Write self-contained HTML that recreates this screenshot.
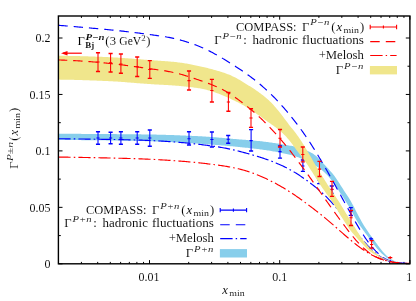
<!DOCTYPE html>
<html><head><meta charset="utf-8"><title>chart</title>
<style>html,body{margin:0;padding:0;background:#fff;}svg{display:block;will-change:transform;}</style>
</head><body>
<svg width="416" height="301" viewBox="0 0 416 301">
<rect width="416" height="301" fill="#ffffff"/>
<defs><clipPath id="c"><rect x="58.4" y="16.0" width="351.5" height="247.8"/></clipPath></defs>
<path d="M149.50,263.8v-3.7M149.50,16.0v3.7M279.70,263.8v-3.7M279.70,16.0v3.7M409.90,263.8v-3.7M409.90,16.0v3.7M58.49,263.8v-1.9M58.49,16.0v1.9M81.42,263.8v-1.9M81.42,16.0v1.9M97.69,263.8v-1.9M97.69,16.0v1.9M110.31,263.8v-1.9M110.31,16.0v1.9M120.62,263.8v-1.9M120.62,16.0v1.9M129.33,263.8v-1.9M129.33,16.0v1.9M136.88,263.8v-1.9M136.88,16.0v1.9M143.54,263.8v-1.9M143.54,16.0v1.9M188.69,263.8v-1.9M188.69,16.0v1.9M211.62,263.8v-1.9M211.62,16.0v1.9M227.89,263.8v-1.9M227.89,16.0v1.9M240.51,263.8v-1.9M240.51,16.0v1.9M250.82,263.8v-1.9M250.82,16.0v1.9M259.53,263.8v-1.9M259.53,16.0v1.9M267.08,263.8v-1.9M267.08,16.0v1.9M273.74,263.8v-1.9M273.74,16.0v1.9M318.89,263.8v-1.9M318.89,16.0v1.9M341.82,263.8v-1.9M341.82,16.0v1.9M358.09,263.8v-1.9M358.09,16.0v1.9M370.71,263.8v-1.9M370.71,16.0v1.9M381.02,263.8v-1.9M381.02,16.0v1.9M389.73,263.8v-1.9M389.73,16.0v1.9M397.28,263.8v-1.9M397.28,16.0v1.9M403.94,263.8v-1.9M403.94,16.0v1.9M58.4,263.80h4.1M409.9,263.80h-4.1M58.4,235.58h2.4M409.9,235.58h-2.4M58.4,207.35h4.1M409.9,207.35h-4.1M58.4,179.12h2.4M409.9,179.12h-2.4M58.4,150.90h4.1M409.9,150.90h-4.1M58.4,122.68h2.4M409.9,122.68h-2.4M58.4,94.45h4.1M409.9,94.45h-4.1M58.4,66.22h2.4M409.9,66.22h-2.4M58.4,38.00h4.1M409.9,38.00h-4.1" stroke="#000" stroke-width="1" fill="none"/>
<g clip-path="url(#c)" fill="none" stroke-width="1.15">
<path d="M58.40,133.75 L59.58,133.76 L60.75,133.76 L61.93,133.77 L63.10,133.77 L64.28,133.78 L65.45,133.78 L66.63,133.79 L67.80,133.79 L68.98,133.80 L70.16,133.81 L71.33,133.81 L72.51,133.82 L73.68,133.83 L74.86,133.83 L76.03,133.84 L77.21,133.85 L78.38,133.85 L79.56,133.86 L80.74,133.87 L81.91,133.88 L83.09,133.88 L84.26,133.89 L85.44,133.90 L86.61,133.91 L87.79,133.91 L88.97,133.92 L90.14,133.93 L91.32,133.94 L92.49,133.95 L93.67,133.95 L94.84,133.96 L96.02,133.97 L97.19,133.98 L98.37,133.99 L99.55,134.00 L100.72,134.01 L101.90,134.01 L103.07,134.02 L104.25,134.03 L105.42,134.04 L106.60,134.05 L107.77,134.06 L108.95,134.07 L110.13,134.08 L111.30,134.09 L112.48,134.09 L113.65,134.10 L114.83,134.11 L116.00,134.12 L117.18,134.13 L118.35,134.14 L119.53,134.15 L120.71,134.16 L121.88,134.17 L123.06,134.18 L124.23,134.19 L125.41,134.20 L126.58,134.21 L127.76,134.23 L128.94,134.24 L130.11,134.25 L131.29,134.26 L132.46,134.27 L133.64,134.29 L134.81,134.30 L135.99,134.31 L137.16,134.33 L138.34,134.34 L139.52,134.36 L140.69,134.37 L141.87,134.39 L143.04,134.40 L144.22,134.42 L145.39,134.43 L146.57,134.45 L147.74,134.47 L148.92,134.49 L150.10,134.50 L151.27,134.52 L152.45,134.54 L153.62,134.57 L154.80,134.59 L155.97,134.61 L157.15,134.64 L158.32,134.67 L159.50,134.69 L160.68,134.72 L161.85,134.75 L163.03,134.78 L164.20,134.82 L165.38,134.85 L166.55,134.89 L167.73,134.92 L168.91,134.96 L170.08,135.00 L171.26,135.03 L172.43,135.07 L173.61,135.12 L174.78,135.16 L175.96,135.20 L177.13,135.24 L178.31,135.29 L179.49,135.33 L180.66,135.38 L181.84,135.43 L183.01,135.48 L184.19,135.52 L185.36,135.57 L186.54,135.63 L187.71,135.68 L188.89,135.73 L190.07,135.78 L191.24,135.83 L192.42,135.89 L193.59,135.94 L194.77,136.00 L195.94,136.05 L197.12,136.11 L198.29,136.17 L199.47,136.23 L200.65,136.29 L201.82,136.36 L203.00,136.42 L204.17,136.49 L205.35,136.57 L206.52,136.64 L207.70,136.72 L208.87,136.81 L210.05,136.89 L211.23,136.98 L212.40,137.07 L213.58,137.16 L214.75,137.26 L215.93,137.35 L217.10,137.45 L218.28,137.55 L219.46,137.65 L220.63,137.75 L221.81,137.86 L222.98,137.96 L224.16,138.07 L225.33,138.17 L226.51,138.27 L227.68,138.38 L228.86,138.48 L230.04,138.58 L231.21,138.69 L232.39,138.79 L233.56,138.89 L234.74,138.99 L235.91,139.09 L237.09,139.19 L238.26,139.28 L239.44,139.38 L240.62,139.47 L241.79,139.57 L242.97,139.66 L244.14,139.76 L245.32,139.85 L246.49,139.94 L247.67,140.04 L248.84,140.14 L250.02,140.24 L251.20,140.34 L252.37,140.44 L253.55,140.54 L254.72,140.65 L255.90,140.76 L257.07,140.88 L258.25,140.99 L259.43,141.11 L260.60,141.24 L261.78,141.37 L262.95,141.50 L264.13,141.64 L265.30,141.78 L266.48,141.93 L267.65,142.08 L268.83,142.24 L270.01,142.40 L271.18,142.56 L272.36,142.73 L273.53,142.90 L274.71,143.08 L275.88,143.26 L277.06,143.44 L278.23,143.62 L279.41,143.81 L280.59,144.00 L281.76,144.20 L282.94,144.40 L284.11,144.60 L285.29,144.80 L286.46,145.00 L287.64,145.21 L288.81,145.42 L289.99,145.64 L291.17,145.87 L292.34,146.11 L293.52,146.36 L294.69,146.63 L295.87,146.91 L297.04,147.22 L298.22,147.55 L299.39,147.91 L300.57,148.29 L301.75,148.70 L302.92,149.13 L304.10,149.59 L305.27,150.06 L306.45,150.54 L307.62,151.04 L308.80,151.56 L309.98,152.11 L311.15,152.70 L312.33,153.35 L313.50,154.08 L314.68,154.91 L315.85,155.84 L317.03,156.86 L318.20,157.96 L319.38,159.13 L320.56,160.35 L321.73,161.61 L322.91,162.89 L324.08,164.19 L325.26,165.49 L326.43,166.79 L327.61,168.07 L328.78,169.36 L329.96,170.65 L331.14,171.98 L332.31,173.35 L333.49,174.79 L334.66,176.32 L335.84,177.95 L337.01,179.66 L338.19,181.45 L339.36,183.29 L340.54,185.16 L341.72,187.02 L342.89,188.85 L344.07,190.65 L345.24,192.41 L346.42,194.18 L347.59,195.97 L348.77,197.82 L349.95,199.75 L351.12,201.78 L352.30,203.90 L353.47,206.10 L354.65,208.36 L355.82,210.65 L357.00,212.93 L358.17,215.19 L359.35,217.41 L360.53,219.57 L361.70,221.67 L362.88,223.71 L364.05,225.68 L365.23,227.57 L366.40,229.37 L367.58,231.10 L368.75,232.78 L369.93,234.41 L371.11,236.02 L372.28,237.63 L373.46,239.25 L374.63,240.87 L375.81,242.49 L376.98,244.10 L378.16,245.70 L379.33,247.26 L380.51,248.79 L381.69,250.27 L382.86,251.68 L384.04,253.02 L385.21,254.27 L386.39,255.43 L387.56,256.49 L388.74,257.46 L389.92,258.34 L391.09,259.14 L392.27,259.86 L393.44,260.51 L394.62,261.07 L395.79,261.56 L396.97,261.96 L398.14,262.30 L399.32,262.58 L400.50,262.82 L401.67,263.02 L402.85,263.20 L404.02,263.35 L405.20,263.48 L406.37,263.58 L407.55,263.66 L408.72,263.71 L409.90,263.75 L409.90,263.77 L408.72,263.74 L407.55,263.70 L406.37,263.64 L405.20,263.57 L404.02,263.48 L402.85,263.37 L401.67,263.25 L400.50,263.11 L399.32,262.94 L398.14,262.74 L396.97,262.50 L395.79,262.21 L394.62,261.85 L393.44,261.42 L392.27,260.92 L391.09,260.34 L389.92,259.70 L388.74,259.00 L387.56,258.24 L386.39,257.42 L385.21,256.54 L384.04,255.59 L382.86,254.58 L381.69,253.50 L380.51,252.34 L379.33,251.13 L378.16,249.84 L376.98,248.50 L375.81,247.08 L374.63,245.61 L373.46,244.08 L372.28,242.51 L371.11,240.90 L369.93,239.28 L368.75,237.65 L367.58,236.05 L366.40,234.46 L365.23,232.89 L364.05,231.32 L362.88,229.74 L361.70,228.12 L360.53,226.46 L359.35,224.72 L358.17,222.89 L357.00,220.97 L355.82,218.96 L354.65,216.88 L353.47,214.75 L352.30,212.62 L351.12,210.49 L349.95,208.40 L348.77,206.36 L347.59,204.39 L346.42,202.48 L345.24,200.64 L344.07,198.84 L342.89,197.08 L341.72,195.31 L340.54,193.53 L339.36,191.71 L338.19,189.87 L337.01,188.01 L335.84,186.19 L334.66,184.42 L333.49,182.74 L332.31,181.15 L331.14,179.65 L329.96,178.22 L328.78,176.86 L327.61,175.55 L326.43,174.31 L325.26,173.13 L324.08,172.03 L322.91,171.00 L321.73,170.06 L320.56,169.18 L319.38,168.36 L318.20,167.59 L317.03,166.84 L315.85,166.11 L314.68,165.40 L313.50,164.69 L312.33,164.00 L311.15,163.32 L309.98,162.65 L308.80,162.01 L307.62,161.39 L306.45,160.79 L305.27,160.22 L304.10,159.67 L302.92,159.14 L301.75,158.65 L300.57,158.17 L299.39,157.72 L298.22,157.29 L297.04,156.88 L295.87,156.49 L294.69,156.12 L293.52,155.76 L292.34,155.42 L291.17,155.09 L289.99,154.78 L288.81,154.48 L287.64,154.20 L286.46,153.93 L285.29,153.66 L284.11,153.41 L282.94,153.16 L281.76,152.92 L280.59,152.68 L279.41,152.45 L278.23,152.23 L277.06,152.01 L275.88,151.80 L274.71,151.59 L273.53,151.38 L272.36,151.18 L271.18,150.99 L270.01,150.80 L268.83,150.61 L267.65,150.43 L266.48,150.25 L265.30,150.08 L264.13,149.91 L262.95,149.74 L261.78,149.58 L260.60,149.42 L259.43,149.26 L258.25,149.11 L257.07,148.96 L255.90,148.82 L254.72,148.67 L253.55,148.53 L252.37,148.40 L251.20,148.26 L250.02,148.13 L248.84,148.00 L247.67,147.87 L246.49,147.75 L245.32,147.63 L244.14,147.50 L242.97,147.38 L241.79,147.27 L240.62,147.15 L239.44,147.03 L238.26,146.92 L237.09,146.81 L235.91,146.69 L234.74,146.58 L233.56,146.47 L232.39,146.36 L231.21,146.25 L230.04,146.14 L228.86,146.04 L227.68,145.93 L226.51,145.82 L225.33,145.72 L224.16,145.61 L222.98,145.51 L221.81,145.41 L220.63,145.31 L219.46,145.21 L218.28,145.11 L217.10,145.01 L215.93,144.91 L214.75,144.82 L213.58,144.73 L212.40,144.63 L211.23,144.54 L210.05,144.45 L208.87,144.37 L207.70,144.28 L206.52,144.19 L205.35,144.11 L204.17,144.03 L203.00,143.95 L201.82,143.87 L200.65,143.80 L199.47,143.72 L198.29,143.64 L197.12,143.57 L195.94,143.50 L194.77,143.42 L193.59,143.35 L192.42,143.28 L191.24,143.21 L190.07,143.14 L188.89,143.07 L187.71,143.00 L186.54,142.93 L185.36,142.86 L184.19,142.79 L183.01,142.72 L181.84,142.65 L180.66,142.59 L179.49,142.52 L178.31,142.46 L177.13,142.40 L175.96,142.33 L174.78,142.27 L173.61,142.21 L172.43,142.15 L171.26,142.09 L170.08,142.03 L168.91,141.98 L167.73,141.92 L166.55,141.87 L165.38,141.82 L164.20,141.76 L163.03,141.71 L161.85,141.66 L160.68,141.62 L159.50,141.57 L158.32,141.53 L157.15,141.48 L155.97,141.44 L154.80,141.40 L153.62,141.36 L152.45,141.33 L151.27,141.29 L150.10,141.26 L148.92,141.22 L147.74,141.19 L146.57,141.16 L145.39,141.13 L144.22,141.10 L143.04,141.07 L141.87,141.04 L140.69,141.01 L139.52,140.98 L138.34,140.95 L137.16,140.93 L135.99,140.90 L134.81,140.87 L133.64,140.85 L132.46,140.82 L131.29,140.80 L130.11,140.77 L128.94,140.75 L127.76,140.72 L126.58,140.70 L125.41,140.68 L124.23,140.65 L123.06,140.63 L121.88,140.61 L120.71,140.59 L119.53,140.57 L118.35,140.55 L117.18,140.53 L116.00,140.51 L114.83,140.49 L113.65,140.48 L112.48,140.46 L111.30,140.44 L110.13,140.42 L108.95,140.41 L107.77,140.39 L106.60,140.38 L105.42,140.36 L104.25,140.35 L103.07,140.33 L101.90,140.32 L100.72,140.31 L99.55,140.30 L98.37,140.28 L97.19,140.27 L96.02,140.26 L94.84,140.25 L93.67,140.24 L92.49,140.22 L91.32,140.21 L90.14,140.20 L88.97,140.19 L87.79,140.18 L86.61,140.17 L85.44,140.16 L84.26,140.15 L83.09,140.14 L81.91,140.13 L80.74,140.12 L79.56,140.11 L78.38,140.10 L77.21,140.09 L76.03,140.08 L74.86,140.08 L73.68,140.07 L72.51,140.06 L71.33,140.05 L70.16,140.05 L68.98,140.04 L67.80,140.03 L66.63,140.03 L65.45,140.02 L64.28,140.02 L63.10,140.01 L61.93,140.01 L60.75,140.01 L59.58,140.00 L58.40,140.00 Z" fill="#87ceeb"/>
<path d="M58.40,138.75 L59.58,138.76 L60.75,138.77 L61.93,138.78 L63.10,138.79 L64.28,138.80 L65.45,138.82 L66.63,138.83 L67.80,138.84 L68.98,138.85 L70.16,138.86 L71.33,138.88 L72.51,138.89 L73.68,138.90 L74.86,138.92 L76.03,138.93 L77.21,138.95 L78.38,138.96 L79.56,138.98 L80.74,138.99 L81.91,139.01 L83.09,139.02 L84.26,139.04 L85.44,139.06 L86.61,139.07 L87.79,139.09 L88.97,139.11 L90.14,139.13 L91.32,139.14 L92.49,139.16 L93.67,139.18 L94.84,139.20 L96.02,139.22 L97.19,139.24 L98.37,139.26 L99.55,139.28 L100.72,139.30 L101.90,139.32 L103.07,139.34 L104.25,139.36 L105.42,139.38 L106.60,139.40 L107.77,139.42 L108.95,139.44 L110.13,139.46 L111.30,139.48 L112.48,139.50 L113.65,139.52 L114.83,139.54 L116.00,139.56 L117.18,139.58 L118.35,139.60 L119.53,139.62 L120.71,139.65 L121.88,139.67 L123.06,139.69 L124.23,139.72 L125.41,139.74 L126.58,139.77 L127.76,139.79 L128.94,139.82 L130.11,139.85 L131.29,139.87 L132.46,139.90 L133.64,139.94 L134.81,139.97 L135.99,140.00 L137.16,140.04 L138.34,140.07 L139.52,140.11 L140.69,140.15 L141.87,140.19 L143.04,140.23 L144.22,140.28 L145.39,140.32 L146.57,140.37 L147.74,140.42 L148.92,140.47 L150.10,140.52 L151.27,140.57 L152.45,140.62 L153.62,140.68 L154.80,140.74 L155.97,140.80 L157.15,140.86 L158.32,140.92 L159.50,140.99 L160.68,141.05 L161.85,141.12 L163.03,141.19 L164.20,141.26 L165.38,141.34 L166.55,141.41 L167.73,141.49 L168.91,141.57 L170.08,141.65 L171.26,141.74 L172.43,141.82 L173.61,141.91 L174.78,142.00 L175.96,142.09 L177.13,142.19 L178.31,142.28 L179.49,142.38 L180.66,142.48 L181.84,142.59 L183.01,142.69 L184.19,142.80 L185.36,142.91 L186.54,143.02 L187.71,143.14 L188.89,143.26 L190.07,143.38 L191.24,143.50 L192.42,143.62 L193.59,143.75 L194.77,143.87 L195.94,144.00 L197.12,144.14 L198.29,144.27 L199.47,144.40 L200.65,144.54 L201.82,144.68 L203.00,144.82 L204.17,144.97 L205.35,145.11 L206.52,145.26 L207.70,145.41 L208.87,145.57 L210.05,145.72 L211.23,145.88 L212.40,146.05 L213.58,146.22 L214.75,146.39 L215.93,146.57 L217.10,146.75 L218.28,146.93 L219.46,147.13 L220.63,147.33 L221.81,147.53 L222.98,147.74 L224.16,147.96 L225.33,148.18 L226.51,148.41 L227.68,148.65 L228.86,148.89 L230.04,149.14 L231.21,149.40 L232.39,149.66 L233.56,149.93 L234.74,150.20 L235.91,150.49 L237.09,150.77 L238.26,151.06 L239.44,151.36 L240.62,151.66 L241.79,151.96 L242.97,152.27 L244.14,152.58 L245.32,152.90 L246.49,153.22 L247.67,153.55 L248.84,153.88 L250.02,154.21 L251.20,154.54 L252.37,154.89 L253.55,155.23 L254.72,155.58 L255.90,155.93 L257.07,156.29 L258.25,156.66 L259.43,157.03 L260.60,157.40 L261.78,157.78 L262.95,158.17 L264.13,158.56 L265.30,158.96 L266.48,159.37 L267.65,159.78 L268.83,160.21 L270.01,160.64 L271.18,161.08 L272.36,161.52 L273.53,161.98 L274.71,162.45 L275.88,162.93 L277.06,163.42 L278.23,163.92 L279.41,164.43 L280.59,164.96 L281.76,165.50 L282.94,166.05 L284.11,166.61 L285.29,167.19 L286.46,167.79 L287.64,168.39 L288.81,169.02 L289.99,169.66 L291.17,170.32 L292.34,170.99 L293.52,171.68 L294.69,172.38 L295.87,173.10 L297.04,173.83 L298.22,174.58 L299.39,175.35 L300.57,176.13 L301.75,176.92 L302.92,177.73 L304.10,178.55 L305.27,179.38 L306.45,180.22 L307.62,181.08 L308.80,181.95 L309.98,182.83 L311.15,183.72 L312.33,184.62 L313.50,185.54 L314.68,186.47 L315.85,187.42 L317.03,188.38 L318.20,189.37 L319.38,190.37 L320.56,191.40 L321.73,192.45 L322.91,193.53 L324.08,194.63 L325.26,195.77 L326.43,196.94 L327.61,198.13 L328.78,199.36 L329.96,200.61 L331.14,201.90 L332.31,203.20 L333.49,204.53 L334.66,205.89 L335.84,207.26 L337.01,208.64 L338.19,210.04 L339.36,211.45 L340.54,212.87 L341.72,214.30 L342.89,215.74 L344.07,217.18 L345.24,218.63 L346.42,220.09 L347.59,221.55 L348.77,223.01 L349.95,224.47 L351.12,225.94 L352.30,227.41 L353.47,228.87 L354.65,230.33 L355.82,231.79 L357.00,233.24 L358.17,234.68 L359.35,236.10 L360.53,237.52 L361.70,238.91 L362.88,240.28 L364.05,241.63 L365.23,242.96 L366.40,244.25 L367.58,245.52 L368.75,246.75 L369.93,247.95 L371.11,249.11 L372.28,250.23 L373.46,251.30 L374.63,252.34 L375.81,253.33 L376.98,254.28 L378.16,255.18 L379.33,256.03 L380.51,256.83 L381.69,257.58 L382.86,258.28 L384.04,258.93 L385.21,259.53 L386.39,260.08 L387.56,260.57 L388.74,261.02 L389.92,261.42 L391.09,261.77 L392.27,262.08 L393.44,262.34 L394.62,262.57 L395.79,262.76 L396.97,262.92 L398.14,263.05 L399.32,263.16 L400.50,263.25 L401.67,263.32 L402.85,263.38 L404.02,263.43 L405.20,263.47 L406.37,263.50 L407.55,263.54 L408.72,263.57 L409.90,263.60" stroke="#0000ff" stroke-dasharray="12.20 3.10 1.60 3.10 12.20 3.10 1.60 3.10 12.20 3.10 1.60 3.10 12.20 3.10 1.60 3.10 12.20 3.10 1.60 3.10 12.20 3.10 1.60 3.10 12.20 3.10 1.60 3.10 12.20 3.10 1.60 3.10 12.20 3.10 1.60 3.10 12.20 3.10 1.60 3.10 12.20 3.10 1.60 3.10 12.20 3.10 1.60 3.10 12.20 3.10 1.60 3.10 12.20 3.10 1.60 3.10 12.20 3.10 1.60 3.10 12.20 3.10 1.60 3.10 12.20 3.10 1.60 3.10 12.20 3.10 1.60 3.10 12.20 3.10 1.60 3.10 12.20 0.80 0 1000"/>
<path d="M58.40,25.35 L59.58,25.43 L60.75,25.51 L61.93,25.59 L63.10,25.67 L64.28,25.76 L65.45,25.85 L66.63,25.95 L67.80,26.04 L68.98,26.14 L70.16,26.24 L71.33,26.34 L72.51,26.44 L73.68,26.54 L74.86,26.64 L76.03,26.74 L77.21,26.85 L78.38,26.95 L79.56,27.06 L80.74,27.16 L81.91,27.27 L83.09,27.37 L84.26,27.48 L85.44,27.58 L86.61,27.69 L87.79,27.79 L88.97,27.90 L90.14,28.00 L91.32,28.11 L92.49,28.22 L93.67,28.32 L94.84,28.43 L96.02,28.54 L97.19,28.64 L98.37,28.75 L99.55,28.86 L100.72,28.97 L101.90,29.08 L103.07,29.19 L104.25,29.30 L105.42,29.41 L106.60,29.52 L107.77,29.63 L108.95,29.74 L110.13,29.86 L111.30,29.97 L112.48,30.09 L113.65,30.21 L114.83,30.33 L116.00,30.45 L117.18,30.57 L118.35,30.69 L119.53,30.81 L120.71,30.94 L121.88,31.07 L123.06,31.19 L124.23,31.33 L125.41,31.46 L126.58,31.59 L127.76,31.73 L128.94,31.86 L130.11,32.00 L131.29,32.15 L132.46,32.29 L133.64,32.43 L134.81,32.58 L135.99,32.73 L137.16,32.88 L138.34,33.03 L139.52,33.18 L140.69,33.34 L141.87,33.49 L143.04,33.65 L144.22,33.80 L145.39,33.96 L146.57,34.12 L147.74,34.28 L148.92,34.44 L150.10,34.59 L151.27,34.75 L152.45,34.91 L153.62,35.07 L154.80,35.23 L155.97,35.39 L157.15,35.56 L158.32,35.72 L159.50,35.89 L160.68,36.06 L161.85,36.24 L163.03,36.42 L164.20,36.61 L165.38,36.80 L166.55,37.00 L167.73,37.21 L168.91,37.43 L170.08,37.65 L171.26,37.89 L172.43,38.13 L173.61,38.38 L174.78,38.65 L175.96,38.92 L177.13,39.21 L178.31,39.50 L179.49,39.81 L180.66,40.12 L181.84,40.45 L183.01,40.78 L184.19,41.13 L185.36,41.48 L186.54,41.84 L187.71,42.21 L188.89,42.59 L190.07,42.98 L191.24,43.38 L192.42,43.79 L193.59,44.21 L194.77,44.64 L195.94,45.08 L197.12,45.53 L198.29,46.00 L199.47,46.47 L200.65,46.96 L201.82,47.47 L203.00,47.98 L204.17,48.51 L205.35,49.06 L206.52,49.61 L207.70,50.19 L208.87,50.77 L210.05,51.37 L211.23,51.98 L212.40,52.60 L213.58,53.23 L214.75,53.88 L215.93,54.53 L217.10,55.19 L218.28,55.87 L219.46,56.55 L220.63,57.23 L221.81,57.93 L222.98,58.63 L224.16,59.33 L225.33,60.04 L226.51,60.76 L227.68,61.48 L228.86,62.20 L230.04,62.93 L231.21,63.66 L232.39,64.40 L233.56,65.14 L234.74,65.89 L235.91,66.65 L237.09,67.42 L238.26,68.19 L239.44,68.96 L240.62,69.75 L241.79,70.55 L242.97,71.35 L244.14,72.17 L245.32,72.99 L246.49,73.82 L247.67,74.67 L248.84,75.53 L250.02,76.40 L251.20,77.28 L252.37,78.17 L253.55,79.07 L254.72,79.99 L255.90,80.92 L257.07,81.87 L258.25,82.83 L259.43,83.80 L260.60,84.79 L261.78,85.79 L262.95,86.81 L264.13,87.85 L265.30,88.90 L266.48,89.97 L267.65,91.06 L268.83,92.16 L270.01,93.28 L271.18,94.43 L272.36,95.59 L273.53,96.77 L274.71,97.97 L275.88,99.18 L277.06,100.42 L278.23,101.67 L279.41,102.95 L280.59,104.24 L281.76,105.55 L282.94,106.88 L284.11,108.23 L285.29,109.59 L286.46,110.97 L287.64,112.37 L288.81,113.78 L289.99,115.21 L291.17,116.66 L292.34,118.13 L293.52,119.61 L294.69,121.11 L295.87,122.63 L297.04,124.16 L298.22,125.72 L299.39,127.30 L300.57,128.90 L301.75,130.52 L302.92,132.16 L304.10,133.83 L305.27,135.52 L306.45,137.24 L307.62,138.98 L308.80,140.75 L309.98,142.55 L311.15,144.37 L312.33,146.21 L313.50,148.07 L314.68,149.96 L315.85,151.86 L317.03,153.79 L318.20,155.74 L319.38,157.70 L320.56,159.67 L321.73,161.67 L322.91,163.67 L324.08,165.69 L325.26,167.72 L326.43,169.77 L327.61,171.82 L328.78,173.89 L329.96,175.97 L331.14,178.06 L332.31,180.16 L333.49,182.27 L334.66,184.39 L335.84,186.52 L337.01,188.66 L338.19,190.80 L339.36,192.94 L340.54,195.09 L341.72,197.24 L342.89,199.39 L344.07,201.54 L345.24,203.68 L346.42,205.82 L347.59,207.96 L348.77,210.09 L349.95,212.21 L351.12,214.32 L352.30,216.42 L353.47,218.50 L354.65,220.57 L355.82,222.61 L357.00,224.63 L358.17,226.63 L359.35,228.59 L360.53,230.52 L361.70,232.41 L362.88,234.26 L364.05,236.06 L365.23,237.82 L366.40,239.53 L367.58,241.18 L368.75,242.77 L369.93,244.31 L371.11,245.79 L372.28,247.21 L373.46,248.57 L374.63,249.87 L375.81,251.10 L376.98,252.26 L378.16,253.37 L379.33,254.41 L380.51,255.38 L381.69,256.29 L382.86,257.13 L384.04,257.91 L385.21,258.63 L386.39,259.28 L387.56,259.87 L388.74,260.41 L389.92,260.88 L391.09,261.30 L392.27,261.67 L393.44,261.99 L394.62,262.26 L395.79,262.49 L396.97,262.69 L398.14,262.85 L399.32,262.98 L400.50,263.09 L401.67,263.18 L402.85,263.26 L404.02,263.32 L405.20,263.37 L406.37,263.42 L407.55,263.46 L408.72,263.50 L409.90,263.54" stroke="#0000ff" stroke-dasharray="9.40 5.91 9.40 5.91 9.40 5.91 9.40 5.91 9.40 5.91 9.40 5.91 9.40 5.91 9.40 5.91 9.40 5.91 9.40 5.91 9.40 5.91 9.40 5.91 9.40 5.91 9.40 5.91 9.40 5.91 9.40 5.91 9.40 5.91 9.40 5.91 9.40 5.91 9.40 5.91 9.40 5.91 9.40 5.91 9.40 5.91 9.40 5.91 9.40 5.91 9.40 5.91 9.40 5.91 9.40 5.91 9.40 5.91 9.40 3.08 0 1000"/>
</g>
<path d="M98.00,131.75V144.25M96.40,138.00h3.2" stroke="#0000ff" stroke-width="1.05" fill="none"/>
<path d="M95.95,131.75h4.1M95.95,144.25h4.1" stroke="#0000ff" stroke-width="1.3" fill="none"/>
<path d="M110.60,132.25V143.75M109.00,138.00h3.2" stroke="#0000ff" stroke-width="1.05" fill="none"/>
<path d="M108.55,132.25h4.1M108.55,143.75h4.1" stroke="#0000ff" stroke-width="1.3" fill="none"/>
<path d="M120.90,131.75V144.25M119.30,138.00h3.2" stroke="#0000ff" stroke-width="1.05" fill="none"/>
<path d="M118.85,131.75h4.1M118.85,144.25h4.1" stroke="#0000ff" stroke-width="1.3" fill="none"/>
<path d="M137.20,131.75V144.25M135.60,138.00h3.2" stroke="#0000ff" stroke-width="1.05" fill="none"/>
<path d="M135.15,131.75h4.1M135.15,144.25h4.1" stroke="#0000ff" stroke-width="1.3" fill="none"/>
<path d="M149.80,130.00V146.25M148.20,138.00h3.2" stroke="#0000ff" stroke-width="1.05" fill="none"/>
<path d="M147.75,130.00h4.1M147.75,146.25h4.1" stroke="#0000ff" stroke-width="1.3" fill="none"/>
<path d="M189.00,131.75V145.00M187.40,138.75h3.2" stroke="#0000ff" stroke-width="1.05" fill="none"/>
<path d="M186.95,131.75h4.1M186.95,145.00h4.1" stroke="#0000ff" stroke-width="1.3" fill="none"/>
<path d="M211.90,132.00V147.00M210.30,139.50h3.2" stroke="#0000ff" stroke-width="1.05" fill="none"/>
<path d="M209.85,132.00h4.1M209.85,147.00h4.1" stroke="#0000ff" stroke-width="1.3" fill="none"/>
<path d="M228.20,135.50V143.25M226.60,139.25h3.2" stroke="#0000ff" stroke-width="1.05" fill="none"/>
<path d="M226.15,135.50h4.1M226.15,143.25h4.1" stroke="#0000ff" stroke-width="1.3" fill="none"/>
<path d="M251.10,129.60V151.00M249.50,140.60h3.2" stroke="#0000ff" stroke-width="1.05" fill="none"/>
<path d="M249.05,129.60h4.1M249.05,151.00h4.1" stroke="#0000ff" stroke-width="1.3" fill="none"/>
<path d="M280.00,145.80V158.20M278.40,151.60h3.2" stroke="#0000ff" stroke-width="1.05" fill="none"/>
<path d="M277.95,145.80h4.1M277.95,158.20h4.1" stroke="#0000ff" stroke-width="1.3" fill="none"/>
<path d="M302.90,160.00V171.40M301.30,166.00h3.2" stroke="#0000ff" stroke-width="1.05" fill="none"/>
<path d="M300.85,160.00h4.1M300.85,171.40h4.1" stroke="#0000ff" stroke-width="1.3" fill="none"/>
<path d="M319.20,177.00V183.60M317.60,180.50h3.2" stroke="#0000ff" stroke-width="1.05" fill="none"/>
<path d="M317.15,177.00h4.1M317.15,183.60h4.1" stroke="#0000ff" stroke-width="1.3" fill="none"/>
<path d="M331.80,186.00V193.50M330.20,189.50h3.2" stroke="#0000ff" stroke-width="1.05" fill="none"/>
<path d="M329.75,186.00h4.1M329.75,193.50h4.1" stroke="#0000ff" stroke-width="1.3" fill="none"/>
<path d="M350.80,207.60V215.40M349.20,211.50h3.2" stroke="#0000ff" stroke-width="1.05" fill="none"/>
<path d="M348.75,207.60h4.1M348.75,215.40h4.1" stroke="#0000ff" stroke-width="1.3" fill="none"/>
<path d="M371.00,237.30V240.30M368.90,238.80h4.2" stroke="#0000ff" stroke-width="1.2" fill="none"/>
<ellipse cx="390.00" cy="261.00" rx="1.3" ry="0.9" fill="#0000ff"/>
<g clip-path="url(#c)" fill="none" stroke-width="1.15">
<path d="M58.40,55.80 L59.58,55.81 L60.75,55.81 L61.93,55.82 L63.10,55.83 L64.28,55.84 L65.45,55.85 L66.63,55.87 L67.80,55.88 L68.98,55.90 L70.16,55.92 L71.33,55.94 L72.51,55.96 L73.68,55.98 L74.86,56.01 L76.03,56.04 L77.21,56.06 L78.38,56.09 L79.56,56.12 L80.74,56.15 L81.91,56.19 L83.09,56.22 L84.26,56.25 L85.44,56.29 L86.61,56.33 L87.79,56.36 L88.97,56.40 L90.14,56.44 L91.32,56.48 L92.49,56.52 L93.67,56.56 L94.84,56.60 L96.02,56.65 L97.19,56.69 L98.37,56.73 L99.55,56.78 L100.72,56.82 L101.90,56.87 L103.07,56.91 L104.25,56.96 L105.42,57.00 L106.60,57.05 L107.77,57.10 L108.95,57.15 L110.13,57.20 L111.30,57.26 L112.48,57.31 L113.65,57.38 L114.83,57.44 L116.00,57.51 L117.18,57.58 L118.35,57.65 L119.53,57.73 L120.71,57.81 L121.88,57.89 L123.06,57.97 L124.23,58.06 L125.41,58.15 L126.58,58.24 L127.76,58.33 L128.94,58.42 L130.11,58.51 L131.29,58.60 L132.46,58.70 L133.64,58.79 L134.81,58.89 L135.99,58.99 L137.16,59.08 L138.34,59.18 L139.52,59.27 L140.69,59.37 L141.87,59.47 L143.04,59.56 L144.22,59.65 L145.39,59.75 L146.57,59.84 L147.74,59.93 L148.92,60.01 L150.10,60.10 L151.27,60.19 L152.45,60.27 L153.62,60.35 L154.80,60.43 L155.97,60.51 L157.15,60.59 L158.32,60.66 L159.50,60.74 L160.68,60.82 L161.85,60.90 L163.03,60.98 L164.20,61.07 L165.38,61.15 L166.55,61.24 L167.73,61.33 L168.91,61.43 L170.08,61.52 L171.26,61.63 L172.43,61.74 L173.61,61.85 L174.78,61.97 L175.96,62.10 L177.13,62.23 L178.31,62.38 L179.49,62.53 L180.66,62.69 L181.84,62.86 L183.01,63.04 L184.19,63.23 L185.36,63.42 L186.54,63.62 L187.71,63.83 L188.89,64.04 L190.07,64.26 L191.24,64.48 L192.42,64.71 L193.59,64.94 L194.77,65.17 L195.94,65.41 L197.12,65.65 L198.29,65.89 L199.47,66.14 L200.65,66.40 L201.82,66.66 L203.00,66.93 L204.17,67.21 L205.35,67.50 L206.52,67.79 L207.70,68.10 L208.87,68.40 L210.05,68.72 L211.23,69.03 L212.40,69.35 L213.58,69.67 L214.75,70.00 L215.93,70.33 L217.10,70.66 L218.28,71.00 L219.46,71.35 L220.63,71.70 L221.81,72.07 L222.98,72.46 L224.16,72.85 L225.33,73.27 L226.51,73.70 L227.68,74.15 L228.86,74.61 L230.04,75.10 L231.21,75.61 L232.39,76.13 L233.56,76.68 L234.74,77.25 L235.91,77.86 L237.09,78.49 L238.26,79.16 L239.44,79.86 L240.62,80.58 L241.79,81.32 L242.97,82.06 L244.14,82.80 L245.32,83.52 L246.49,84.24 L247.67,84.95 L248.84,85.65 L250.02,86.37 L251.20,87.09 L252.37,87.83 L253.55,88.59 L254.72,89.37 L255.90,90.17 L257.07,90.98 L258.25,91.81 L259.43,92.66 L260.60,93.52 L261.78,94.40 L262.95,95.30 L264.13,96.22 L265.30,97.17 L266.48,98.16 L267.65,99.19 L268.83,100.26 L270.01,101.38 L271.18,102.56 L272.36,103.79 L273.53,105.07 L274.71,106.39 L275.88,107.76 L277.06,109.16 L278.23,110.60 L279.41,112.06 L280.59,113.56 L281.76,115.08 L282.94,116.62 L284.11,118.18 L285.29,119.74 L286.46,121.30 L287.64,122.85 L288.81,124.38 L289.99,125.89 L291.17,127.38 L292.34,128.87 L293.52,130.35 L294.69,131.84 L295.87,133.36 L297.04,134.93 L298.22,136.56 L299.39,138.26 L300.57,140.02 L301.75,141.83 L302.92,143.68 L304.10,145.56 L305.27,147.47 L306.45,149.41 L307.62,151.38 L308.80,153.40 L309.98,155.45 L311.15,157.52 L312.33,159.60 L313.50,161.66 L314.68,163.70 L315.85,165.70 L317.03,167.67 L318.20,169.61 L319.38,171.53 L320.56,173.43 L321.73,175.32 L322.91,177.21 L324.08,179.10 L325.26,180.96 L326.43,182.81 L327.61,184.63 L328.78,186.43 L329.96,188.21 L331.14,189.98 L332.31,191.74 L333.49,193.49 L334.66,195.24 L335.84,196.98 L337.01,198.73 L338.19,200.51 L339.36,202.33 L340.54,204.21 L341.72,206.13 L342.89,208.09 L344.07,210.06 L345.24,212.02 L346.42,213.94 L347.59,215.83 L348.77,217.70 L349.95,219.56 L351.12,221.43 L352.30,223.31 L353.47,225.20 L354.65,227.10 L355.82,229.00 L357.00,230.88 L358.17,232.74 L359.35,234.55 L360.53,236.31 L361.70,238.00 L362.88,239.63 L364.05,241.18 L365.23,242.67 L366.40,244.08 L367.58,245.43 L368.75,246.70 L369.93,247.91 L371.11,249.06 L372.28,250.15 L373.46,251.20 L374.63,252.19 L375.81,253.14 L376.98,254.04 L378.16,254.89 L379.33,255.69 L380.51,256.43 L381.69,257.11 L382.86,257.74 L384.04,258.32 L385.21,258.87 L386.39,259.38 L387.56,259.87 L388.74,260.32 L389.92,260.75 L391.09,261.15 L392.27,261.50 L393.44,261.82 L394.62,262.10 L395.79,262.34 L396.97,262.56 L398.14,262.75 L399.32,262.92 L400.50,263.07 L401.67,263.22 L402.85,263.34 L404.02,263.45 L405.20,263.55 L406.37,263.63 L407.55,263.69 L408.72,263.73 L409.90,263.76 L409.90,263.77 L408.72,263.74 L407.55,263.70 L406.37,263.65 L405.20,263.58 L404.02,263.50 L402.85,263.40 L401.67,263.28 L400.50,263.15 L399.32,263.01 L398.14,262.85 L396.97,262.68 L395.79,262.50 L394.62,262.30 L393.44,262.09 L392.27,261.87 L391.09,261.61 L389.92,261.33 L388.74,261.00 L387.56,260.63 L386.39,260.21 L385.21,259.75 L384.04,259.26 L382.86,258.73 L381.69,258.18 L380.51,257.61 L379.33,257.01 L378.16,256.40 L376.98,255.76 L375.81,255.10 L374.63,254.42 L373.46,253.70 L372.28,252.93 L371.11,252.12 L369.93,251.23 L368.75,250.28 L367.58,249.26 L366.40,248.16 L365.23,247.01 L364.05,245.80 L362.88,244.55 L361.70,243.27 L360.53,241.98 L359.35,240.69 L358.17,239.40 L357.00,238.11 L355.82,236.80 L354.65,235.47 L353.47,234.10 L352.30,232.68 L351.12,231.19 L349.95,229.63 L348.77,227.99 L347.59,226.30 L346.42,224.55 L345.24,222.76 L344.07,220.94 L342.89,219.11 L341.72,217.25 L340.54,215.38 L339.36,213.48 L338.19,211.55 L337.01,209.61 L335.84,207.67 L334.66,205.74 L333.49,203.86 L332.31,202.04 L331.14,200.30 L329.96,198.62 L328.78,196.97 L327.61,195.34 L326.43,193.70 L325.26,192.05 L324.08,190.37 L322.91,188.66 L321.73,186.93 L320.56,185.18 L319.38,183.40 L318.20,181.59 L317.03,179.75 L315.85,177.90 L314.68,176.05 L313.50,174.19 L312.33,172.34 L311.15,170.49 L309.98,168.66 L308.80,166.86 L307.62,165.08 L306.45,163.34 L305.27,161.66 L304.10,160.03 L302.92,158.44 L301.75,156.89 L300.57,155.35 L299.39,153.81 L298.22,152.27 L297.04,150.71 L295.87,149.13 L294.69,147.53 L293.52,145.93 L292.34,144.34 L291.17,142.78 L289.99,141.26 L288.81,139.81 L287.64,138.43 L286.46,137.11 L285.29,135.86 L284.11,134.66 L282.94,133.51 L281.76,132.42 L280.59,131.36 L279.41,130.34 L278.23,129.37 L277.06,128.43 L275.88,127.53 L274.71,126.66 L273.53,125.81 L272.36,124.98 L271.18,124.16 L270.01,123.34 L268.83,122.52 L267.65,121.68 L266.48,120.84 L265.30,119.99 L264.13,119.13 L262.95,118.28 L261.78,117.43 L260.60,116.59 L259.43,115.76 L258.25,114.94 L257.07,114.13 L255.90,113.33 L254.72,112.54 L253.55,111.75 L252.37,110.97 L251.20,110.20 L250.02,109.43 L248.84,108.67 L247.67,107.92 L246.49,107.18 L245.32,106.46 L244.14,105.77 L242.97,105.09 L241.79,104.43 L240.62,103.80 L239.44,103.18 L238.26,102.57 L237.09,101.98 L235.91,101.40 L234.74,100.82 L233.56,100.26 L232.39,99.70 L231.21,99.15 L230.04,98.61 L228.86,98.07 L227.68,97.54 L226.51,97.02 L225.33,96.50 L224.16,95.99 L222.98,95.49 L221.81,95.00 L220.63,94.52 L219.46,94.05 L218.28,93.59 L217.10,93.14 L215.93,92.70 L214.75,92.28 L213.58,91.88 L212.40,91.50 L211.23,91.14 L210.05,90.79 L208.87,90.46 L207.70,90.14 L206.52,89.84 L205.35,89.55 L204.17,89.28 L203.00,89.02 L201.82,88.78 L200.65,88.56 L199.47,88.36 L198.29,88.16 L197.12,87.98 L195.94,87.81 L194.77,87.64 L193.59,87.48 L192.42,87.33 L191.24,87.18 L190.07,87.03 L188.89,86.90 L187.71,86.76 L186.54,86.64 L185.36,86.51 L184.19,86.39 L183.01,86.28 L181.84,86.17 L180.66,86.06 L179.49,85.95 L178.31,85.85 L177.13,85.76 L175.96,85.66 L174.78,85.57 L173.61,85.48 L172.43,85.40 L171.26,85.32 L170.08,85.24 L168.91,85.17 L167.73,85.10 L166.55,85.03 L165.38,84.96 L164.20,84.89 L163.03,84.83 L161.85,84.77 L160.68,84.70 L159.50,84.64 L158.32,84.58 L157.15,84.51 L155.97,84.45 L154.80,84.38 L153.62,84.31 L152.45,84.24 L151.27,84.17 L150.10,84.10 L148.92,84.02 L147.74,83.94 L146.57,83.86 L145.39,83.78 L144.22,83.69 L143.04,83.60 L141.87,83.52 L140.69,83.43 L139.52,83.33 L138.34,83.24 L137.16,83.15 L135.99,83.05 L134.81,82.96 L133.64,82.86 L132.46,82.77 L131.29,82.67 L130.11,82.58 L128.94,82.49 L127.76,82.39 L126.58,82.30 L125.41,82.21 L124.23,82.12 L123.06,82.03 L121.88,81.94 L120.71,81.86 L119.53,81.77 L118.35,81.69 L117.18,81.62 L116.00,81.54 L114.83,81.47 L113.65,81.40 L112.48,81.33 L111.30,81.27 L110.13,81.21 L108.95,81.15 L107.77,81.10 L106.60,81.04 L105.42,80.99 L104.25,80.94 L103.07,80.89 L101.90,80.84 L100.72,80.79 L99.55,80.75 L98.37,80.70 L97.19,80.65 L96.02,80.60 L94.84,80.56 L93.67,80.51 L92.49,80.47 L91.32,80.42 L90.14,80.38 L88.97,80.33 L87.79,80.29 L86.61,80.25 L85.44,80.21 L84.26,80.17 L83.09,80.13 L81.91,80.09 L80.74,80.06 L79.56,80.02 L78.38,79.99 L77.21,79.95 L76.03,79.92 L74.86,79.89 L73.68,79.86 L72.51,79.83 L71.33,79.81 L70.16,79.78 L68.98,79.76 L67.80,79.73 L66.63,79.71 L65.45,79.69 L64.28,79.67 L63.10,79.66 L61.93,79.64 L60.75,79.63 L59.58,79.61 L58.40,79.60 Z" fill="#f0e68c"/>
<path d="M58.40,157.05 L59.58,157.06 L60.75,157.08 L61.93,157.09 L63.10,157.11 L64.28,157.13 L65.45,157.14 L66.63,157.16 L67.80,157.18 L68.98,157.20 L70.16,157.22 L71.33,157.24 L72.51,157.26 L73.68,157.28 L74.86,157.31 L76.03,157.33 L77.21,157.35 L78.38,157.37 L79.56,157.39 L80.74,157.42 L81.91,157.44 L83.09,157.46 L84.26,157.48 L85.44,157.51 L86.61,157.53 L87.79,157.55 L88.97,157.57 L90.14,157.60 L91.32,157.62 L92.49,157.64 L93.67,157.67 L94.84,157.69 L96.02,157.71 L97.19,157.74 L98.37,157.76 L99.55,157.78 L100.72,157.81 L101.90,157.83 L103.07,157.86 L104.25,157.88 L105.42,157.91 L106.60,157.93 L107.77,157.96 L108.95,157.98 L110.13,158.01 L111.30,158.03 L112.48,158.06 L113.65,158.09 L114.83,158.12 L116.00,158.14 L117.18,158.17 L118.35,158.20 L119.53,158.23 L120.71,158.26 L121.88,158.29 L123.06,158.32 L124.23,158.35 L125.41,158.38 L126.58,158.42 L127.76,158.45 L128.94,158.48 L130.11,158.52 L131.29,158.55 L132.46,158.59 L133.64,158.63 L134.81,158.67 L135.99,158.71 L137.16,158.75 L138.34,158.79 L139.52,158.83 L140.69,158.87 L141.87,158.92 L143.04,158.96 L144.22,159.01 L145.39,159.06 L146.57,159.11 L147.74,159.16 L148.92,159.21 L150.10,159.27 L151.27,159.32 L152.45,159.38 L153.62,159.44 L154.80,159.49 L155.97,159.56 L157.15,159.62 L158.32,159.68 L159.50,159.75 L160.68,159.81 L161.85,159.88 L163.03,159.95 L164.20,160.02 L165.38,160.09 L166.55,160.17 L167.73,160.24 L168.91,160.32 L170.08,160.39 L171.26,160.47 L172.43,160.55 L173.61,160.63 L174.78,160.71 L175.96,160.80 L177.13,160.88 L178.31,160.97 L179.49,161.06 L180.66,161.15 L181.84,161.24 L183.01,161.34 L184.19,161.43 L185.36,161.53 L186.54,161.63 L187.71,161.74 L188.89,161.84 L190.07,161.95 L191.24,162.06 L192.42,162.17 L193.59,162.29 L194.77,162.40 L195.94,162.52 L197.12,162.64 L198.29,162.77 L199.47,162.89 L200.65,163.02 L201.82,163.15 L203.00,163.28 L204.17,163.41 L205.35,163.55 L206.52,163.68 L207.70,163.82 L208.87,163.97 L210.05,164.11 L211.23,164.25 L212.40,164.40 L213.58,164.55 L214.75,164.71 L215.93,164.86 L217.10,165.02 L218.28,165.19 L219.46,165.35 L220.63,165.52 L221.81,165.69 L222.98,165.87 L224.16,166.05 L225.33,166.24 L226.51,166.43 L227.68,166.63 L228.86,166.83 L230.04,167.04 L231.21,167.26 L232.39,167.49 L233.56,167.72 L234.74,167.96 L235.91,168.22 L237.09,168.48 L238.26,168.75 L239.44,169.04 L240.62,169.34 L241.79,169.65 L242.97,169.97 L244.14,170.30 L245.32,170.65 L246.49,171.00 L247.67,171.37 L248.84,171.76 L250.02,172.15 L251.20,172.56 L252.37,172.98 L253.55,173.41 L254.72,173.85 L255.90,174.30 L257.07,174.77 L258.25,175.24 L259.43,175.73 L260.60,176.22 L261.78,176.73 L262.95,177.25 L264.13,177.77 L265.30,178.31 L266.48,178.85 L267.65,179.41 L268.83,179.98 L270.01,180.55 L271.18,181.14 L272.36,181.74 L273.53,182.35 L274.71,182.96 L275.88,183.59 L277.06,184.23 L278.23,184.88 L279.41,185.54 L280.59,186.22 L281.76,186.90 L282.94,187.59 L284.11,188.29 L285.29,189.01 L286.46,189.73 L287.64,190.46 L288.81,191.21 L289.99,191.96 L291.17,192.72 L292.34,193.49 L293.52,194.28 L294.69,195.07 L295.87,195.87 L297.04,196.68 L298.22,197.50 L299.39,198.33 L300.57,199.17 L301.75,200.01 L302.92,200.86 L304.10,201.72 L305.27,202.59 L306.45,203.46 L307.62,204.34 L308.80,205.23 L309.98,206.12 L311.15,207.01 L312.33,207.90 L313.50,208.80 L314.68,209.71 L315.85,210.62 L317.03,211.53 L318.20,212.45 L319.38,213.38 L320.56,214.31 L321.73,215.25 L322.91,216.19 L324.08,217.15 L325.26,218.12 L326.43,219.09 L327.61,220.08 L328.78,221.07 L329.96,222.08 L331.14,223.09 L332.31,224.11 L333.49,225.13 L334.66,226.16 L335.84,227.20 L337.01,228.24 L338.19,229.28 L339.36,230.32 L340.54,231.35 L341.72,232.39 L342.89,233.43 L344.07,234.46 L345.24,235.48 L346.42,236.50 L347.59,237.51 L348.77,238.51 L349.95,239.50 L351.12,240.49 L352.30,241.46 L353.47,242.42 L354.65,243.36 L355.82,244.29 L357.00,245.20 L358.17,246.10 L359.35,246.98 L360.53,247.84 L361.70,248.68 L362.88,249.49 L364.05,250.29 L365.23,251.07 L366.40,251.82 L367.58,252.54 L368.75,253.25 L369.93,253.92 L371.11,254.57 L372.28,255.20 L373.46,255.80 L374.63,256.37 L375.81,256.91 L376.98,257.43 L378.16,257.92 L379.33,258.39 L380.51,258.84 L381.69,259.25 L382.86,259.65 L384.04,260.02 L385.21,260.37 L386.39,260.70 L387.56,261.01 L388.74,261.30 L389.92,261.57 L391.09,261.82 L392.27,262.06 L393.44,262.27 L394.62,262.47 L395.79,262.66 L396.97,262.83 L398.14,262.98 L399.32,263.12 L400.50,263.24 L401.67,263.35 L402.85,263.44 L404.02,263.52 L405.20,263.59 L406.37,263.64 L407.55,263.68 L408.72,263.70 L409.90,263.72" stroke="#ff0000" stroke-dasharray="12.20 3.10 1.60 3.10 12.20 3.10 1.60 3.10 12.20 3.10 1.60 3.10 12.20 3.10 1.60 3.10 12.20 3.10 1.60 3.10 12.20 3.10 1.60 3.10 12.20 3.10 1.60 3.10 12.20 3.10 1.60 3.10 12.20 3.10 1.60 3.10 12.20 3.10 1.60 3.10 12.20 3.10 1.60 3.10 12.20 3.10 1.60 3.10 12.20 3.10 1.60 3.10 12.20 3.10 1.60 3.10 12.20 3.10 1.60 3.10 12.20 3.10 1.60 3.10 12.20 3.10 1.60 3.10 12.20 3.10 1.60 3.10 12.20 3.10 1.60 3.10 0.35 0.01 0 1000"/>
<path d="M58.40,59.94 L59.58,59.98 L60.75,60.03 L61.93,60.07 L63.10,60.11 L64.28,60.16 L65.45,60.21 L66.63,60.26 L67.80,60.31 L68.98,60.37 L70.16,60.42 L71.33,60.48 L72.51,60.54 L73.68,60.60 L74.86,60.67 L76.03,60.73 L77.21,60.80 L78.38,60.87 L79.56,60.94 L80.74,61.02 L81.91,61.09 L83.09,61.17 L84.26,61.25 L85.44,61.33 L86.61,61.41 L87.79,61.50 L88.97,61.59 L90.14,61.68 L91.32,61.77 L92.49,61.86 L93.67,61.96 L94.84,62.05 L96.02,62.15 L97.19,62.26 L98.37,62.36 L99.55,62.47 L100.72,62.57 L101.90,62.68 L103.07,62.80 L104.25,62.91 L105.42,63.03 L106.60,63.14 L107.77,63.26 L108.95,63.39 L110.13,63.51 L111.30,63.64 L112.48,63.77 L113.65,63.90 L114.83,64.03 L116.00,64.16 L117.18,64.30 L118.35,64.44 L119.53,64.58 L120.71,64.73 L121.88,64.87 L123.06,65.02 L124.23,65.17 L125.41,65.32 L126.58,65.47 L127.76,65.62 L128.94,65.78 L130.11,65.94 L131.29,66.10 L132.46,66.26 L133.64,66.42 L134.81,66.58 L135.99,66.74 L137.16,66.91 L138.34,67.07 L139.52,67.24 L140.69,67.41 L141.87,67.57 L143.04,67.74 L144.22,67.91 L145.39,68.07 L146.57,68.24 L147.74,68.40 L148.92,68.57 L150.10,68.73 L151.27,68.90 L152.45,69.06 L153.62,69.22 L154.80,69.38 L155.97,69.55 L157.15,69.71 L158.32,69.88 L159.50,70.05 L160.68,70.22 L161.85,70.39 L163.03,70.57 L164.20,70.75 L165.38,70.94 L166.55,71.14 L167.73,71.35 L168.91,71.56 L170.08,71.78 L171.26,72.01 L172.43,72.25 L173.61,72.51 L174.78,72.77 L175.96,73.04 L177.13,73.32 L178.31,73.62 L179.49,73.92 L180.66,74.23 L181.84,74.56 L183.01,74.89 L184.19,75.23 L185.36,75.58 L186.54,75.94 L187.71,76.31 L188.89,76.68 L190.07,77.05 L191.24,77.44 L192.42,77.83 L193.59,78.22 L194.77,78.62 L195.94,79.02 L197.12,79.42 L198.29,79.83 L199.47,80.24 L200.65,80.65 L201.82,81.06 L203.00,81.48 L204.17,81.90 L205.35,82.32 L206.52,82.75 L207.70,83.18 L208.87,83.62 L210.05,84.06 L211.23,84.52 L212.40,84.98 L213.58,85.45 L214.75,85.94 L215.93,86.44 L217.10,86.96 L218.28,87.49 L219.46,88.04 L220.63,88.61 L221.81,89.20 L222.98,89.81 L224.16,90.44 L225.33,91.10 L226.51,91.78 L227.68,92.48 L228.86,93.20 L230.04,93.94 L231.21,94.71 L232.39,95.49 L233.56,96.29 L234.74,97.10 L235.91,97.93 L237.09,98.78 L238.26,99.63 L239.44,100.50 L240.62,101.38 L241.79,102.27 L242.97,103.17 L244.14,104.08 L245.32,105.00 L246.49,105.93 L247.67,106.87 L248.84,107.83 L250.02,108.80 L251.20,109.78 L252.37,110.77 L253.55,111.78 L254.72,112.81 L255.90,113.85 L257.07,114.91 L258.25,115.98 L259.43,117.07 L260.60,118.17 L261.78,119.29 L262.95,120.43 L264.13,121.58 L265.30,122.75 L266.48,123.93 L267.65,125.13 L268.83,126.34 L270.01,127.57 L271.18,128.81 L272.36,130.07 L273.53,131.34 L274.71,132.63 L275.88,133.93 L277.06,135.25 L278.23,136.58 L279.41,137.93 L280.59,139.29 L281.76,140.66 L282.94,142.05 L284.11,143.46 L285.29,144.88 L286.46,146.32 L287.64,147.77 L288.81,149.24 L289.99,150.73 L291.17,152.22 L292.34,153.74 L293.52,155.27 L294.69,156.80 L295.87,158.36 L297.04,159.92 L298.22,161.49 L299.39,163.07 L300.57,164.66 L301.75,166.25 L302.92,167.86 L304.10,169.46 L305.27,171.07 L306.45,172.69 L307.62,174.31 L308.80,175.93 L309.98,177.56 L311.15,179.20 L312.33,180.84 L313.50,182.48 L314.68,184.14 L315.85,185.79 L317.03,187.46 L318.20,189.12 L319.38,190.80 L320.56,192.47 L321.73,194.15 L322.91,195.82 L324.08,197.50 L325.26,199.17 L326.43,200.84 L327.61,202.51 L328.78,204.17 L329.96,205.82 L331.14,207.47 L332.31,209.11 L333.49,210.75 L334.66,212.38 L335.84,214.00 L337.01,215.61 L338.19,217.22 L339.36,218.82 L340.54,220.41 L341.72,222.00 L342.89,223.58 L344.07,225.15 L345.24,226.72 L346.42,228.27 L347.59,229.81 L348.77,231.34 L349.95,232.85 L351.12,234.34 L352.30,235.81 L353.47,237.24 L354.65,238.65 L355.82,240.03 L357.00,241.37 L358.17,242.66 L359.35,243.92 L360.53,245.14 L361.70,246.31 L362.88,247.43 L364.05,248.51 L365.23,249.54 L366.40,250.53 L367.58,251.47 L368.75,252.36 L369.93,253.20 L371.11,254.00 L372.28,254.75 L373.46,255.46 L374.63,256.13 L375.81,256.75 L376.98,257.34 L378.16,257.88 L379.33,258.39 L380.51,258.87 L381.69,259.31 L382.86,259.72 L384.04,260.10 L385.21,260.44 L386.39,260.76 L387.56,261.05 L388.74,261.32 L389.92,261.56 L391.09,261.78 L392.27,261.98 L393.44,262.16 L394.62,262.32 L395.79,262.46 L396.97,262.59 L398.14,262.70 L399.32,262.80 L400.50,262.90 L401.67,262.98 L402.85,263.06 L404.02,263.13 L405.20,263.20 L406.37,263.26 L407.55,263.32 L408.72,263.38 L409.90,263.43" stroke="#ff0000" stroke-dasharray="8.90 5.86 9.40 5.86 9.40 5.86 9.40 5.86 9.40 5.86 9.40 5.86 9.40 5.86 9.40 5.86 9.40 5.86 9.40 5.86 9.40 5.86 9.40 5.86 9.40 5.86 9.40 5.86 9.40 5.86 9.40 5.86 9.40 5.86 9.40 5.86 9.40 5.86 9.40 5.86 9.40 5.86 9.40 5.86 9.40 5.86 9.40 5.86 9.40 5.86 9.40 5.86 9.40 5.86 9.40 5.86 5.00 0.01 0 1000"/>
</g>
<path d="M98.00,52.75V71.50M96.40,62.00h3.2" stroke="#ff0000" stroke-width="1.05" fill="none"/>
<path d="M95.95,52.75h4.1M95.95,71.50h4.1" stroke="#ff0000" stroke-width="1.3" fill="none"/>
<path d="M110.60,53.50V72.00M109.00,62.75h3.2" stroke="#ff0000" stroke-width="1.05" fill="none"/>
<path d="M108.55,53.50h4.1M108.55,72.00h4.1" stroke="#ff0000" stroke-width="1.3" fill="none"/>
<path d="M120.90,54.00V73.25M119.30,64.00h3.2" stroke="#ff0000" stroke-width="1.05" fill="none"/>
<path d="M118.85,54.00h4.1M118.85,73.25h4.1" stroke="#ff0000" stroke-width="1.3" fill="none"/>
<path d="M137.20,57.00V76.50M135.60,66.75h3.2" stroke="#ff0000" stroke-width="1.05" fill="none"/>
<path d="M135.15,57.00h4.1M135.15,76.50h4.1" stroke="#ff0000" stroke-width="1.3" fill="none"/>
<path d="M149.80,60.60V78.40M148.20,69.40h3.2" stroke="#ff0000" stroke-width="1.05" fill="none"/>
<path d="M147.75,60.60h4.1M147.75,78.40h4.1" stroke="#ff0000" stroke-width="1.3" fill="none"/>
<path d="M189.00,71.00V90.00M187.40,80.60h3.2" stroke="#ff0000" stroke-width="1.05" fill="none"/>
<path d="M186.95,71.00h4.1M186.95,90.00h4.1" stroke="#ff0000" stroke-width="1.3" fill="none"/>
<path d="M211.90,79.30V102.00M210.30,90.50h3.2" stroke="#ff0000" stroke-width="1.05" fill="none"/>
<path d="M209.85,79.30h4.1M209.85,102.00h4.1" stroke="#ff0000" stroke-width="1.3" fill="none"/>
<path d="M228.40,92.50V111.25M226.80,102.00h3.2" stroke="#ff0000" stroke-width="1.05" fill="none"/>
<path d="M226.35,92.50h4.1M226.35,111.25h4.1" stroke="#ff0000" stroke-width="1.3" fill="none"/>
<path d="M251.00,108.75V127.30M249.40,118.00h3.2" stroke="#ff0000" stroke-width="1.05" fill="none"/>
<path d="M248.95,108.75h4.1M248.95,127.30h4.1" stroke="#ff0000" stroke-width="1.3" fill="none"/>
<path d="M280.00,129.50V147.00M278.40,138.30h3.2" stroke="#ff0000" stroke-width="1.05" fill="none"/>
<path d="M277.95,129.50h4.1M277.95,147.00h4.1" stroke="#ff0000" stroke-width="1.3" fill="none"/>
<path d="M302.80,147.00V161.80M301.20,154.40h3.2" stroke="#ff0000" stroke-width="1.05" fill="none"/>
<path d="M300.75,147.00h4.1M300.75,161.80h4.1" stroke="#ff0000" stroke-width="1.3" fill="none"/>
<path d="M319.50,161.30V176.50M317.90,169.10h3.2" stroke="#ff0000" stroke-width="1.05" fill="none"/>
<path d="M317.45,161.30h4.1M317.45,176.50h4.1" stroke="#ff0000" stroke-width="1.3" fill="none"/>
<path d="M332.00,181.40V196.40M330.40,189.20h3.2" stroke="#ff0000" stroke-width="1.05" fill="none"/>
<path d="M329.95,181.40h4.1M329.95,196.40h4.1" stroke="#ff0000" stroke-width="1.3" fill="none"/>
<path d="M351.00,210.30V225.50M349.40,217.80h3.2" stroke="#ff0000" stroke-width="1.05" fill="none"/>
<path d="M348.95,210.30h4.1M348.95,225.50h4.1" stroke="#ff0000" stroke-width="1.3" fill="none"/>
<path d="M371.60,240.70V248.20M370.00,244.50h3.2" stroke="#ff0000" stroke-width="1.05" fill="none"/>
<path d="M369.55,240.70h4.1M369.55,248.20h4.1" stroke="#ff0000" stroke-width="1.3" fill="none"/>
<path d="M390.20,256.30V258.90M388.10,257.60h4.2" stroke="#ff0000" stroke-width="1.2" fill="none"/>
<rect x="58.4" y="16.0" width="351.5" height="247.8" fill="none" stroke="#000" stroke-width="1.4"/>
<!-- arrow -->
<path d="M81.8,53.2H63" stroke="#ff0000" stroke-width="1.2" fill="none"/>
<path d="M61,53.2L67.5,50.9V55.5Z" fill="#ff0000"/>
<!-- Bj label -->
<text x="77.50" y="45.20" font-size="12.7" font-family="Liberation Serif, serif" fill="#000" stroke="#fff" stroke-width="0.08">Γ</text>
<text x="85.40" y="39.80" font-size="8.9" font-family="Liberation Serif, serif" font-style="italic" textLength="19.2" lengthAdjust="spacingAndGlyphs" fill="#000" stroke="#fff" stroke-width="0.08" font-weight="bold">P−n</text>
<text x="85.30" y="47.50" font-size="8.9" font-family="Liberation Serif, serif" fill="#000" stroke="#fff" stroke-width="0.08" font-weight="bold">Bj</text>
<text x="105.20" y="45.20" font-size="12.7" font-family="Liberation Serif, serif" fill="#000" stroke="#fff" stroke-width="0.08">(</text>
<text x="109.80" y="45.20" font-size="12.7" font-family="Liberation Serif, serif" fill="#000" stroke="#fff" stroke-width="0.08">3</text>
<text x="119.30" y="45.20" font-size="12.7" font-family="Liberation Serif, serif" textLength="21.8" lengthAdjust="spacingAndGlyphs" fill="#000" stroke="#fff" stroke-width="0.08">GeV</text>
<text x="141.20" y="40.70" font-size="8.9" font-family="Liberation Serif, serif" fill="#000" stroke="#fff" stroke-width="0.08">2</text>
<text x="146.20" y="45.20" font-size="12.7" font-family="Liberation Serif, serif" fill="#000" stroke="#fff" stroke-width="0.08">)</text>
<text x="236.00" y="30.60" font-size="12.7" font-family="Liberation Serif, serif" textLength="60.6" lengthAdjust="spacingAndGlyphs" fill="#000" stroke="#fff" stroke-width="0.08">COMPASS:</text>
<text x="301.90" y="30.60" font-size="12.7" font-family="Liberation Serif, serif" fill="#000" stroke="#fff" stroke-width="0.08">Γ</text>
<text x="310.20" y="25.40" font-size="8.9" font-family="Liberation Serif, serif" font-style="italic" textLength="19.2" lengthAdjust="spacingAndGlyphs" fill="#000" stroke="#fff" stroke-width="0.08">P−n</text>
<text x="331.20" y="30.60" font-size="12.7" font-family="Liberation Serif, serif" fill="#000" stroke="#fff" stroke-width="0.08">(</text>
<text x="336.60" y="30.60" font-size="12.7" font-family="Liberation Serif, serif" font-style="italic" fill="#000" stroke="#fff" stroke-width="0.08">x</text>
<text x="343.50" y="32.60" font-size="8.9" font-family="Liberation Serif, serif" textLength="15.4" lengthAdjust="spacingAndGlyphs" fill="#000" stroke="#fff" stroke-width="0.08">min</text>
<text x="360.00" y="30.60" font-size="12.7" font-family="Liberation Serif, serif" fill="#000" stroke="#fff" stroke-width="0.08">)</text>
<text x="214.20" y="44.30" font-size="12.7" font-family="Liberation Serif, serif" fill="#000" stroke="#fff" stroke-width="0.08">Γ</text>
<text x="222.50" y="39.10" font-size="8.9" font-family="Liberation Serif, serif" font-style="italic" textLength="19.2" lengthAdjust="spacingAndGlyphs" fill="#000" stroke="#fff" stroke-width="0.08">P−n</text>
<text x="243.20" y="44.30" font-size="12.7" font-family="Liberation Serif, serif" fill="#000" stroke="#fff" stroke-width="0.08">:</text>
<text x="252.60" y="44.30" font-size="12.7" font-family="Liberation Serif, serif" textLength="45.3" lengthAdjust="spacingAndGlyphs" fill="#000" stroke="#fff" stroke-width="0.08">hadronic</text>
<text x="301.90" y="44.30" font-size="12.7" font-family="Liberation Serif, serif" textLength="62.1" lengthAdjust="spacingAndGlyphs" fill="#000" stroke="#fff" stroke-width="0.08">fluctuations</text>
<text x="318.70" y="58.70" font-size="12.7" font-family="Liberation Serif, serif" textLength="45.2" lengthAdjust="spacingAndGlyphs" fill="#000" stroke="#fff" stroke-width="0.08">+Melosh</text>
<text x="335.80" y="73.90" font-size="12.7" font-family="Liberation Serif, serif" fill="#000" stroke="#fff" stroke-width="0.08">Γ</text>
<text x="344.10" y="68.70" font-size="8.9" font-family="Liberation Serif, serif" font-style="italic" textLength="19.2" lengthAdjust="spacingAndGlyphs" fill="#000" stroke="#fff" stroke-width="0.08">P−n</text>
<path d="M370.2,27.0H396.6M370.2,24.8v4.4M396.6,24.8v4.4M383.4,25.4v3.2" stroke="#ff0000" stroke-width="1.1" fill="none"/>
<path d="M370.2,41.6H396.6" stroke="#ff0000" stroke-width="1.1" stroke-dasharray="9.5 6.1" fill="none"/>
<path d="M370.2,55.5H396.6" stroke="#ff0000" stroke-width="1.1" stroke-dasharray="12.4 3.1 1.4 3.1" fill="none"/>
<rect x="369.90" y="66.00" width="27.10" height="8.4" fill="#f0e68c"/>
<text x="86.00" y="213.70" font-size="12.7" font-family="Liberation Serif, serif" textLength="60.6" lengthAdjust="spacingAndGlyphs" fill="#000" stroke="#fff" stroke-width="0.08">COMPASS:</text>
<text x="151.90" y="213.70" font-size="12.7" font-family="Liberation Serif, serif" fill="#000" stroke="#fff" stroke-width="0.08">Γ</text>
<text x="160.20" y="208.50" font-size="8.9" font-family="Liberation Serif, serif" font-style="italic" textLength="19.2" lengthAdjust="spacingAndGlyphs" fill="#000" stroke="#fff" stroke-width="0.08">P+n</text>
<text x="181.20" y="213.70" font-size="12.7" font-family="Liberation Serif, serif" fill="#000" stroke="#fff" stroke-width="0.08">(</text>
<text x="186.60" y="213.70" font-size="12.7" font-family="Liberation Serif, serif" font-style="italic" fill="#000" stroke="#fff" stroke-width="0.08">x</text>
<text x="193.50" y="215.70" font-size="8.9" font-family="Liberation Serif, serif" textLength="15.4" lengthAdjust="spacingAndGlyphs" fill="#000" stroke="#fff" stroke-width="0.08">min</text>
<text x="210.00" y="213.70" font-size="12.7" font-family="Liberation Serif, serif" fill="#000" stroke="#fff" stroke-width="0.08">)</text>
<text x="64.20" y="227.40" font-size="12.7" font-family="Liberation Serif, serif" fill="#000" stroke="#fff" stroke-width="0.08">Γ</text>
<text x="72.50" y="222.20" font-size="8.9" font-family="Liberation Serif, serif" font-style="italic" textLength="19.2" lengthAdjust="spacingAndGlyphs" fill="#000" stroke="#fff" stroke-width="0.08">P+n</text>
<text x="93.20" y="227.40" font-size="12.7" font-family="Liberation Serif, serif" fill="#000" stroke="#fff" stroke-width="0.08">:</text>
<text x="102.60" y="227.40" font-size="12.7" font-family="Liberation Serif, serif" textLength="45.3" lengthAdjust="spacingAndGlyphs" fill="#000" stroke="#fff" stroke-width="0.08">hadronic</text>
<text x="151.90" y="227.40" font-size="12.7" font-family="Liberation Serif, serif" textLength="62.1" lengthAdjust="spacingAndGlyphs" fill="#000" stroke="#fff" stroke-width="0.08">fluctuations</text>
<text x="168.70" y="241.80" font-size="12.7" font-family="Liberation Serif, serif" textLength="45.2" lengthAdjust="spacingAndGlyphs" fill="#000" stroke="#fff" stroke-width="0.08">+Melosh</text>
<text x="185.80" y="257.00" font-size="12.7" font-family="Liberation Serif, serif" fill="#000" stroke="#fff" stroke-width="0.08">Γ</text>
<text x="194.10" y="251.80" font-size="8.9" font-family="Liberation Serif, serif" font-style="italic" textLength="19.2" lengthAdjust="spacingAndGlyphs" fill="#000" stroke="#fff" stroke-width="0.08">P+n</text>
<path d="M220.2,210.1H246.60000000000002M220.2,207.9v4.4M246.60000000000002,207.9v4.4M233.4,208.5v3.2" stroke="#0000ff" stroke-width="1.1" fill="none"/>
<path d="M220.2,224.7H246.60000000000002" stroke="#0000ff" stroke-width="1.1" stroke-dasharray="9.5 6.1" fill="none"/>
<path d="M220.2,238.6H246.60000000000002" stroke="#0000ff" stroke-width="1.1" stroke-dasharray="12.4 3.1 1.4 3.1" fill="none"/>
<rect x="219.90" y="249.10" width="27.10" height="8.4" fill="#87ceeb"/>
<!-- axis tick labels -->
<g font-size="12" font-family="Liberation Serif, serif" fill="#000" stroke="#fff" stroke-width="0.08">
<text x="50.5" y="42.1" text-anchor="end">0.2</text>
<text x="50.5" y="98.6" text-anchor="end">0.15</text>
<text x="50.5" y="155.0" text-anchor="end">0.1</text>
<text x="50.5" y="211.5" text-anchor="end">0.05</text>
<text x="50.5" y="267.9" text-anchor="end">0</text>
<text x="148.9" y="280.8" text-anchor="middle">0.01</text>
<text x="279.7" y="280.8" text-anchor="middle">0.1</text>
<text x="409.3" y="280.8" text-anchor="middle">1</text>
<text x="222.30" y="293.80" font-size="12.7" font-family="Liberation Serif, serif" font-style="italic" fill="#000" stroke="#fff" stroke-width="0.08">x</text>
<text x="229.30" y="295.80" font-size="8.9" font-family="Liberation Serif, serif" textLength="15.4" lengthAdjust="spacingAndGlyphs" fill="#000" stroke="#fff" stroke-width="0.08">min</text>
<g transform="translate(18.1,168.8) rotate(-90)">
<text x="0.00" y="0.00" font-size="12.7" font-family="Liberation Serif, serif" fill="#000" stroke="#fff" stroke-width="0.08">Γ</text>
<text x="7.60" y="-5.20" font-size="8.9" font-family="Liberation Serif, serif" font-style="italic" textLength="19.2" lengthAdjust="spacingAndGlyphs" fill="#000" stroke="#fff" stroke-width="0.08">P±n</text>
<text x="28.00" y="0.00" font-size="12.7" font-family="Liberation Serif, serif" fill="#000" stroke="#fff" stroke-width="0.08">(</text>
<text x="33.40" y="0.00" font-size="12.7" font-family="Liberation Serif, serif" font-style="italic" fill="#000" stroke="#fff" stroke-width="0.08">x</text>
<text x="40.30" y="2.00" font-size="8.9" font-family="Liberation Serif, serif" textLength="15.4" lengthAdjust="spacingAndGlyphs" fill="#000" stroke="#fff" stroke-width="0.08">min</text>
<text x="56.80" y="0.00" font-size="12.7" font-family="Liberation Serif, serif" fill="#000" stroke="#fff" stroke-width="0.08">)</text>
</g>
</g>
</svg>
</body></html>
